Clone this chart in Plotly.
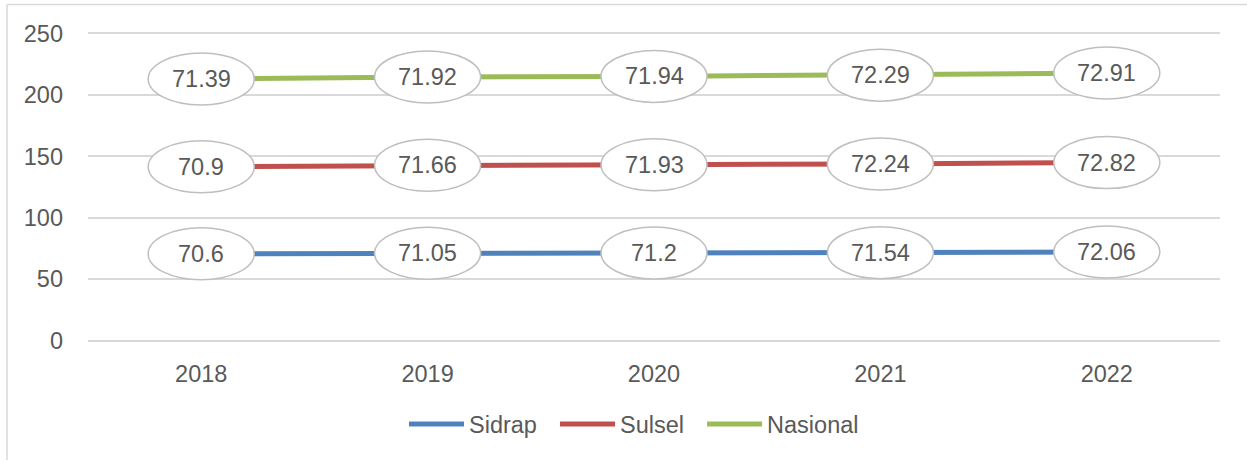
import numpy as np
import plotly.graph_objects as go

years = ["2018", "2019", "2020", "2021", "2022"]
sidrap = [70.6, 71.05, 71.2, 71.54, 72.06]
sulsel = [70.9, 71.66, 71.93, 72.24, 72.82]
nasional = [71.39, 71.92, 71.94, 72.29, 72.91]

series_names = ["Sidrap", "Sulsel", "Nasional"]
series_vals = [sidrap, sulsel, nasional]
colors = ["#4f81bd", "#c0504d", "#9bbb59"]
y_ticks = [0, 50, 100, 150, 200, 250]

W, H = 1247, 461
L, R, T, B = 88, 27, 31.5, 118.5
pw, ph = W - L - R, H - T - B
FONT = "Liberation Sans, Arial, Helvetica"
FS = 23.5
TXT = "#595959"

stacked = np.cumsum(np.array(series_vals), axis=0)
xs = list(range(len(years)))

fig = go.Figure()
for k, (name, cum, col) in enumerate(zip(series_names, stacked, colors)):
    pad = "\u00a0\u00a0" if k < len(series_names) - 1 else ""
    fig.add_trace(go.Scatter(
        x=xs, y=cum, name=name + pad, mode="lines",
        line=dict(color=col, width=5), hoverinfo="skip"))

shapes = []
annotations = []
for vals, cum in zip(series_vals, stacked):
    for i, (v, c) in enumerate(zip(vals, cum)):
        shapes.append(dict(
            type="circle", xref="x", yref="y",
            xsizemode="pixel", ysizemode="pixel",
            xanchor=i, yanchor=c, x0=-53, x1=53, y0=-26, y1=26,
            fillcolor="white", line=dict(color="#bfbfbf", width=1.5),
            layer="above"))
        annotations.append(dict(
            x=i, y=c, xref="x", yref="y", text=f"{v:g}", showarrow=False,
            font=dict(size=FS, color=TXT, family=FONT)))

# outer chart border (top and left edges visible)
bx0 = (7 - L) / pw
by1 = 1 + (T - 4) / ph
shapes.append(dict(type="line", xref="paper", yref="paper",
                   x0=bx0, x1=1 + R / pw, y0=by1, y1=by1,
                   line=dict(color="#d9d9d9", width=1.5), layer="above"))
shapes.append(dict(type="line", xref="paper", yref="paper",
                   x0=bx0, x1=bx0, y0=by1, y1=-B / ph,
                   line=dict(color="#d9d9d9", width=1.5), layer="above"))

fig.update_layout(
    width=W, height=H,
    margin=dict(l=L, r=R, t=T, b=B, autoexpand=False),
    paper_bgcolor="white", plot_bgcolor="white",
    font=dict(family=FONT, size=FS, color=TXT),
    shapes=shapes, annotations=annotations,
    showlegend=True,
    legend=dict(orientation="h", x=(634 - L) / pw, xanchor="center",
                y=(T + ph - 425) / ph, yanchor="middle",
                font=dict(size=FS, color=TXT, family=FONT),
                itemwidth=55, tracegroupgap=0),
    xaxis=dict(range=[-0.5, len(years) - 0.5], tickmode="array",
               tickvals=xs, ticktext=years, showgrid=False, zeroline=False,
               showline=False, ticks="", ticklabelstandoff=15,
               fixedrange=True),
    yaxis=dict(range=[-1.2, 251.2], tickmode="array", tickvals=y_ticks,
               showgrid=True, gridcolor="#d9d9d9", gridwidth=1.5,
               zeroline=False, showline=False, ticks="",
               ticklabelstandoff=24, fixedrange=True),
)

fig.write_html("out.html", config={"displayModeBar": False})

with open("out.html", "r", encoding="utf-8") as f:
    html = f.read()
html = html.replace("<body>", '<body style="margin:0;padding:0;overflow:hidden">', 1)
with open("out.html", "w", encoding="utf-8") as f:
    f.write(html)
